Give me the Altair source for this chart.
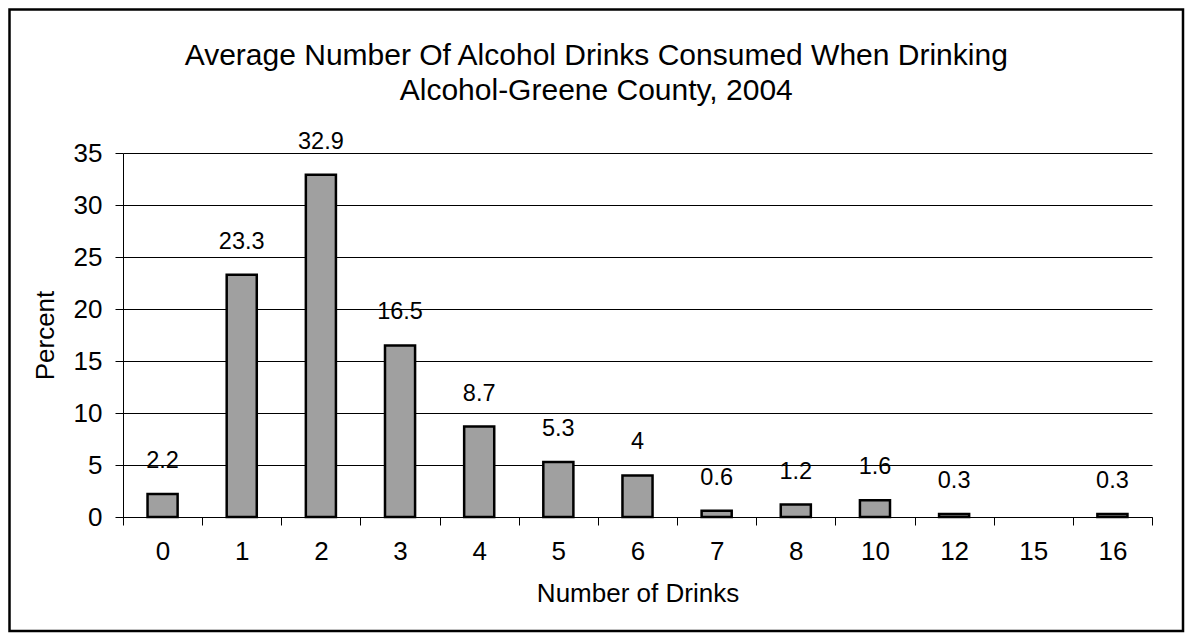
import altair as alt
import pandas as pd

categories = ["0", "1", "2", "3", "4", "5", "6", "7", "8", "10", "12", "15", "16"]
percents = [2.2, 23.3, 32.9, 16.5, 8.7, 5.3, 4.0, 0.6, 1.2, 1.6, 0.3, None, 0.3]
labels = ["2.2", "23.3", "32.9", "16.5", "8.7", "5.3", "4", "0.6", "1.2", "1.6", "0.3", "", "0.3"]
y_ticks = [0, 5, 10, 15, 20, 25, 30, 35]
title_lines = ["Average Number Of Alcohol Drinks Consumed When Drinking",
               "Alcohol-Greene County, 2004"]

FONT = "Liberation Sans"

df = pd.DataFrame({"drinks": categories, "percent": percents, "label": labels})

x_enc = alt.X(
    "drinks:N",
    sort=categories,
    scale=alt.Scale(domain=categories, paddingInner=0, paddingOuter=0),
    axis=alt.Axis(
        title="Number of Drinks",
        labelAngle=0,
        tickBand="extent",
        grid=False,
        labelFontSize=26,
        labelPadding=13,
        tickSize=8,
        titleFontSize=26,
        titlePadding=16,
    ),
)
y_enc = alt.Y(
    "percent:Q",
    scale=alt.Scale(domain=[0, 35], nice=False, zero=True),
    axis=alt.Axis(
        title="Percent",
        values=y_ticks,
        grid=True,
        labelFontSize=26,
        labelPadding=13,
        tickSize=8,
        titleFontSize=26,
        titlePadding=15,
    ),
)

base = alt.Chart(df)

bars = base.transform_filter("datum.percent != null").mark_bar(
    width=alt.RelativeBandSize(0.38),
    fill="#A0A0A0",
    stroke="black",
    strokeWidth=2.5,
).encode(x=x_enc, y=y_enc)

texts = base.transform_filter("datum.percent != null").mark_text(
    font=FONT,
    fontSize=23.5,
    baseline="alphabetic",
    dy=-26,
    color="black",
).encode(x=alt.X("drinks:N", sort=categories), y=alt.Y("percent:Q"), text="label:N")

frame = alt.Chart(pd.DataFrame({"f": [0]})).mark_rect(
    filled=False, stroke="black", strokeWidth=2.5
).encode(
    x=alt.value(-113.5), x2=alt.value(1060), y=alt.value(-143.5), y2=alt.value(478)
)

chart = alt.layer(frame, bars, texts).properties(
    width=1029,
    height=364,
    title=alt.Title(
        title_lines,
        frame="bounds",
        anchor="middle",
        fontSize=30,
        font=FONT,
        fontWeight="normal",
        lineHeight=35,
        offset=-98,
        color="black",
    ),
    autosize=alt.AutoSizeParams(type="none"),
    padding={"left": 115, "top": 145, "right": 33, "bottom": 116},
).configure(
    background="white",
).configure_view(
    stroke=None
).configure_axis(
    labelFont=FONT,
    titleFont=FONT,
    labelColor="black",
    titleColor="black",
    titleFontWeight="normal",
    domainColor="black",
    domainWidth=1,
    tickColor="black",
    tickWidth=1,
    gridColor="black",
    gridWidth=1,
    gridOpacity=1,
)

chart.save("out.html", embed_options={"renderer": "svg", "actions": False})
